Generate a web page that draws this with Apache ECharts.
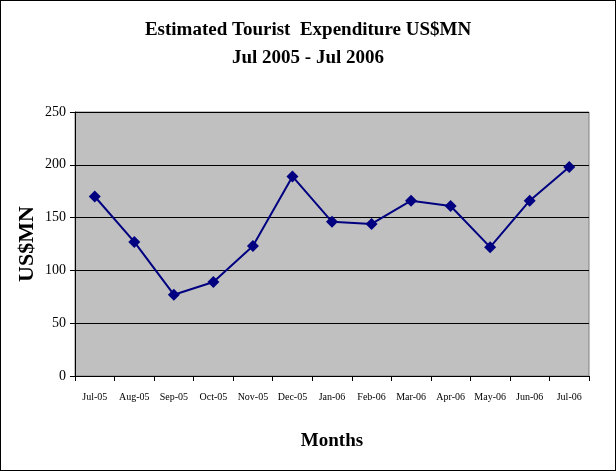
<!DOCTYPE html>
<html>
<head>
<meta charset="utf-8">
<script src="https://cdn.jsdelivr.net/npm/echarts@6/dist/echarts.min.js"></script>
<style>
  html, body { margin: 0; padding: 0; background: #fff; }
  #main { width: 616px; height: 471px; box-sizing: border-box; border: 1px solid #000; }
</style>
</head>
<body>
<div id="main"></div>
<script>
// months on the x axis
var months = ['Jul-05', 'Aug-05', 'Sep-05', 'Oct-05', 'Nov-05', 'Dec-05', 'Jan-06',
  'Feb-06', 'Mar-06', 'Apr-06', 'May-06', 'Jun-06', 'Jul-06'];
// expenditure, US$ millions
var expenditure = [170, 127, 77, 89, 123, 189, 146, 144, 166, 161, 122, 166, 198];
var yTicks = [0, 50, 100, 150, 200, 250];

var serif = 'Liberation Serif';
var chart = echarts.init(document.getElementById('main'), null, { renderer: 'canvas' });

var option = {
  animation: false,
  title: {
    text: 'Estimated Tourist  Expenditure US$MN\nJul 2005 - Jul 2006',
    left: 'center',
    top: 10,
    textStyle: {
      fontFamily: serif,
      fontWeight: 'bold',
      fontSize: 19,
      lineHeight: 28,
      color: '#000'
    }
  },
  grid: {
    left: 74,
    right: 26,
    top: 111,
    bottom: 94,
    show: true,
    backgroundColor: '#c0c0c0',
    borderColor: '#808080',
    borderWidth: 1
  },
  xAxis: {
    type: 'category',
    data: months,
    boundaryGap: true,
    name: 'Months',
    nameLocation: 'middle',
    nameGap: 56,
    nameTextStyle: { fontFamily: serif, fontWeight: 'bold', fontSize: 19, color: '#000' },
    axisLine: { lineStyle: { color: '#000', width: 1 } },
    axisTick: { show: true, length: 5, lineStyle: { color: '#000' } },
    axisLabel: { interval: 0, margin: 16, fontFamily: serif, fontSize: 10, color: '#000' },
    splitLine: { show: false }
  },
  yAxis: {
    type: 'value',
    min: yTicks[0],
    max: yTicks[yTicks.length - 1],
    interval: 50,
    name: 'US$MN',
    nameLocation: 'middle',
    nameGap: 37,
    nameMoveOverlap: false,
    nameTextStyle: { fontFamily: serif, fontWeight: 'bold', fontSize: 22, color: '#000' },
    axisLine: { show: true, lineStyle: { color: '#000', width: 1 } },
    axisTick: { show: true, length: 5, lineStyle: { color: '#000' } },
    axisLabel: { margin: 9, fontFamily: serif, fontSize: 14, color: '#000' },
    splitLine: { show: true, lineStyle: { color: '#000', width: 1 } }
  },
  series: [{
    type: 'line',
    data: expenditure,
    symbol: 'diamond',
    symbolSize: 12,
    showAllSymbol: true,
    lineStyle: { color: '#000080', width: 2 },
    itemStyle: { color: '#000080' }
  }]
};
chart.setOption(option);
</script>
</body>
</html>
